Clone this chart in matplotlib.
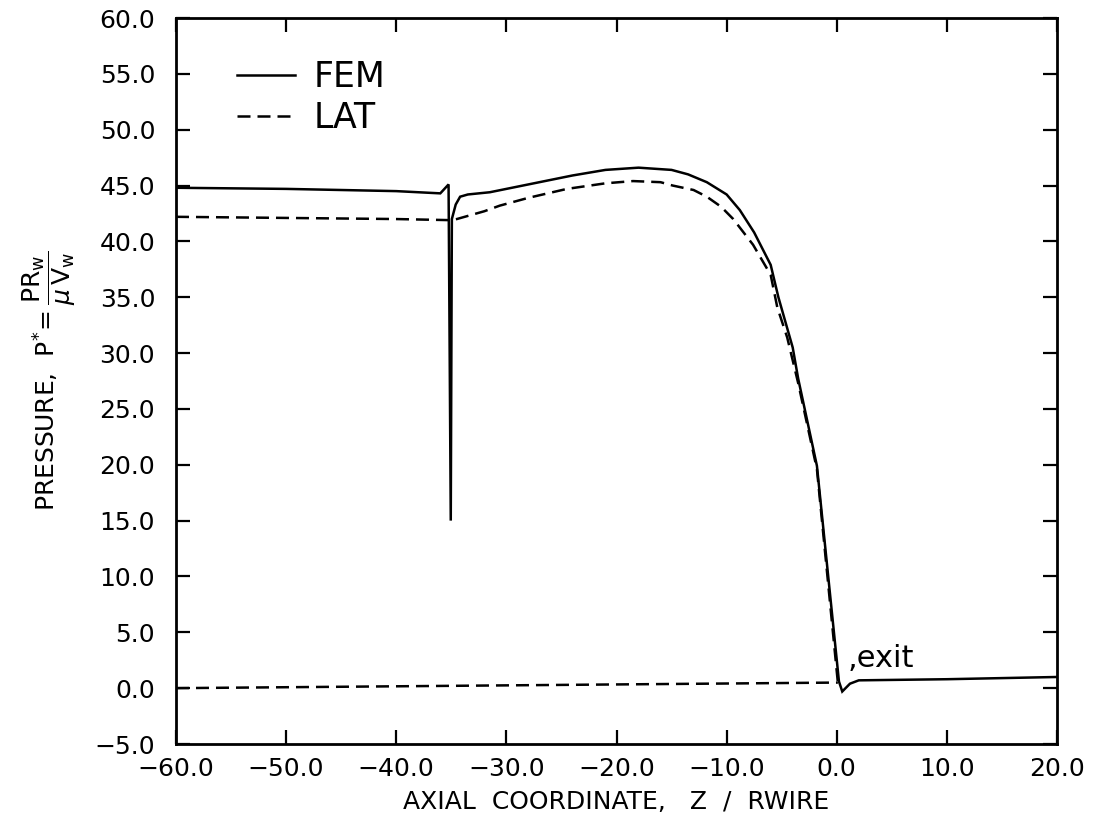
import matplotlib
matplotlib.use("Agg")
import matplotlib.pyplot as plt

# FEM solution: axial coordinate z / Rwire and dimensionless pressure P*
fem_z = [-60.0, -50.0, -40.0, -36.0, -35.25, -35.05, -34.95, -34.6, -34.2, -33.5,
         -31.5, -28.0, -24.0, -21.0, -18.0, -15.0, -13.5, -11.8, -10.0, -8.8,
         -7.5, -6.0, -5.3, -4.0, -3.5, -1.8, 0.2, 0.5, 1.2, 2.0, 10.0, 20.0]
fem_p = [44.8, 44.7, 44.5, 44.3, 45.1, 15.0, 42.0, 43.3, 44.0, 44.2,
         44.4, 45.1, 45.9, 46.4, 46.6, 46.4, 46.0, 45.3, 44.2, 42.8,
         40.8, 37.9, 35.0, 30.5, 27.7, 19.9, 0.6, -0.3, 0.4, 0.7, 0.8, 1.0]

# LAT solution upstream of the exit
lat_z = [-60.0, -50.0, -40.0, -35.0, -34.5, -32.0, -30.6, -28.0, -24.5, -21.0,
         -18.5, -16.0, -14.9, -13.0, -11.8, -10.5, -9.4, -7.6, -6.0, -5.4,
         -4.5, -3.5, -1.8, 0.1]
lat_p = [42.2, 42.1, 42.0, 41.9, 42.0, 42.7, 43.2, 43.9, 44.7, 45.2,
         45.4, 45.3, 45.0, 44.6, 44.0, 43.1, 42.0, 39.7, 37.0, 34.1,
         31.4, 27.3, 19.6, 0.5]

# LAT baseline branch
lat_base_z = [-60.0, 0.1]
lat_base_p = [0.0, 0.5]

x_ticks = [-60, -50, -40, -30, -20, -10, 0, 10, 20]
x_tick_labels = ["\u221260.0", "\u221250.0", "\u221240.0", "\u221230.0", "\u221220.0",
                 "\u221210.0", "0.0", "10.0", "20.0"]
y_ticks = [-5, 0, 5, 10, 15, 20, 25, 30, 35, 40, 45, 50, 55, 60]
y_tick_labels = ["\u22125.0", "0.0", "5.0", "10.0", "15.0", "20.0", "25.0", "30.0",
                 "35.0", "40.0", "45.0", "50.0", "55.0", "60.0"]

plt.rcParams["font.family"] = ["DejaVu Sans"]
plt.rcParams["mathtext.fontset"] = "dejavusans"

fig = plt.figure(figsize=(10.96, 8.25), dpi=100)
ax = fig.add_axes([176 / 1096, 1 - 744 / 825, (1057 - 176) / 1096, (744 - 18) / 825])

lw = 1.8
ax.plot(fem_z, fem_p, color="black", lw=lw, label="FEM", solid_joinstyle="miter")
ax.plot(lat_z, lat_p, color="black", lw=lw, dashes=(5.2, 2.8), label="LAT")
ax.plot(lat_base_z, lat_base_p, color="black", lw=lw, dashes=(5.2, 2.8))

ax.set_xlim(-60, 20)
ax.set_ylim(-5, 60)

ax.set_xticks(x_ticks)
ax.set_xticklabels(x_tick_labels)
ax.set_yticks(y_ticks)
ax.set_yticklabels(y_tick_labels)

ax.tick_params(axis="both", which="major", direction="in", length=10, width=1.6,
               top=True, right=True, labelsize=18, color="black")
ax.tick_params(axis="y", pad=15)
ax.tick_params(axis="x", pad=9)

for sp in ax.spines.values():
    sp.set_linewidth(2.0)
    sp.set_color("black")

ax.set_xlabel("AXIAL  COORDINATE,   Z  /  RWIRE", fontsize=18)
ax.xaxis.set_label_coords(0.5, -0.063)

ax.set_ylabel(r"PRESSURE,  $\mathrm{P}^{*}\!=\dfrac{\mathrm{PR}_{\mathrm{w}}}{\mu\,\mathrm{V}_{\mathrm{w}}}$",
              fontsize=18)
ax.yaxis.set_label_coords(-0.111, 0.5)

ax.text(1.0, 1.9, ",exit", fontsize=22, ha="left", va="baseline")

leg = ax.legend(loc="center left", bbox_to_anchor=(0.069, 0.89), frameon=False,
                fontsize=25, handlelength=1.67, handletextpad=0.55,
                labelspacing=0.2, borderpad=0, borderaxespad=0)

fig.savefig("out.png", dpi=100, facecolor="white")
